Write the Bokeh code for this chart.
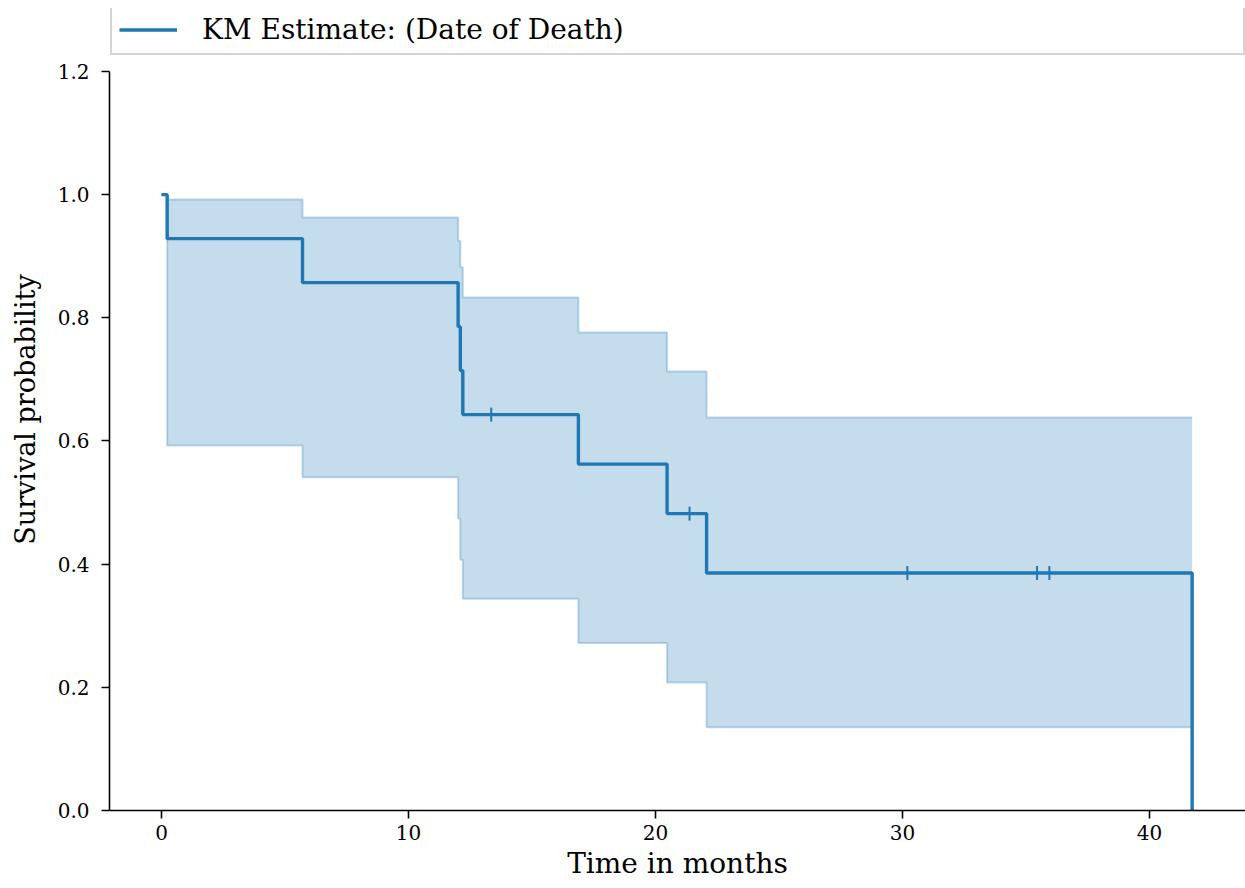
import numpy as np
from bokeh.plotting import figure
from bokeh.models import Legend, LegendItem, Range1d, FixedTicker, NumeralTickFormatter
from bokeh.embed import file_html
from bokeh.resources import INLINE

# Kaplan-Meier estimate
times = [0.0, 0.23, 5.71, 12.01, 12.10, 12.20, 16.88, 20.47, 22.07, 41.73]
survival = [1.0, 0.9286, 0.8571, 0.7857, 0.7143, 0.6429, 0.5625, 0.4821, 0.3857, 0.0]
ci_upper = [1.0, 0.992, 0.963, 0.925, 0.882, 0.833, 0.776, 0.713, 0.638, 0.638]
ci_lower = [1.0, 0.5925, 0.541, 0.474, 0.407, 0.344, 0.272, 0.208, 0.135, 0.135]

# censored observations
censor_times = [13.35, 21.38, 30.20, 35.45, 35.95]
censor_surv = [0.6429, 0.4821, 0.3857, 0.3857, 0.3857]

x_ticks = [0, 10, 20, 30, 40]
y_ticks = [0.0, 0.2, 0.4, 0.6, 0.8, 1.0, 1.2]

label = "KM Estimate: (Date of Death)"
color = "#1f77b4"
FONT = "DejaVu Serif"

# y range extends above 1.2 to leave room for the legend inside the frame;
# the axis line itself is bounded to 0..1.2
p = figure(width=1245, height=888, output_backend="svg", toolbar_location=None,
           x_range=Range1d(-2.105, 43.89), y_range=Range1d(0, 1.3023),
           min_border_left=109, min_border_right=0, min_border_top=8,
           min_border_bottom=78)
p.outline_line_color = None
p.xgrid.visible = False
p.ygrid.visible = False
p.background_fill_color = "white"
p.border_fill_color = "white"

# confidence band
p.varea_step(x=times, y1=ci_lower, y2=ci_upper, step_mode="after",
             fill_color=color, fill_alpha=0.26)
p.step(times, ci_upper, mode="after", line_color=color, line_alpha=0.28, line_width=2)
p.step(times, ci_lower, mode="after", line_color=color, line_alpha=0.28, line_width=2)

# KM line
km = p.step(times, survival, mode="after", line_color=color, line_width=3.4)

# censor marks
p.scatter(censor_times, censor_surv, marker="dash", angle=np.pi / 2, size=14,
          line_color=color, line_width=2)

# axes
for ax in (p.xaxis[0], p.yaxis[0]):
    ax.axis_line_color = "black"
    ax.axis_line_width = 1.6
    ax.major_tick_line_color = "black"
    ax.major_tick_line_width = 1.6
    ax.major_tick_out = 8
    ax.major_tick_in = 0
    ax.minor_tick_line_color = None
    ax.major_label_text_font = FONT
    ax.major_label_text_font_size = "20px"
    ax.major_label_text_color = "black"
    ax.axis_label_text_font = FONT
    ax.axis_label_text_font_size = "28px"
    ax.axis_label_text_font_style = "normal"
    ax.axis_label_text_color = "black"

p.yaxis.axis_label_text_font_size = "27px"
p.xaxis.ticker = FixedTicker(ticks=x_ticks)
p.yaxis.ticker = FixedTicker(ticks=y_ticks)
p.yaxis.formatter = NumeralTickFormatter(format="0.0")
p.yaxis.bounds = (0, 1.2)
p.xaxis.axis_label = "Time in months"
p.yaxis.axis_label = "Survival probability"
p.xaxis.major_label_standoff = 6
p.yaxis.major_label_standoff = 12
p.xaxis.axis_label_standoff = 4
p.yaxis.axis_label_standoff = 14

legend = Legend(items=[LegendItem(label=label, renderers=[km])],
                location=(1, 755), orientation="horizontal",
                glyph_width=58, glyph_height=29, label_standoff=25,
                label_width=1034, label_height=29, padding=7, margin=0,
                border_line_color="#d4d4d4", border_line_alpha=1.0,
                border_line_width=2,
                background_fill_color="white", background_fill_alpha=1.0,
                label_text_font=FONT, label_text_font_size="28px",
                label_text_color="black")
p.add_layout(legend, "center")

open("out.html", "w").write(file_html(p, INLINE))
